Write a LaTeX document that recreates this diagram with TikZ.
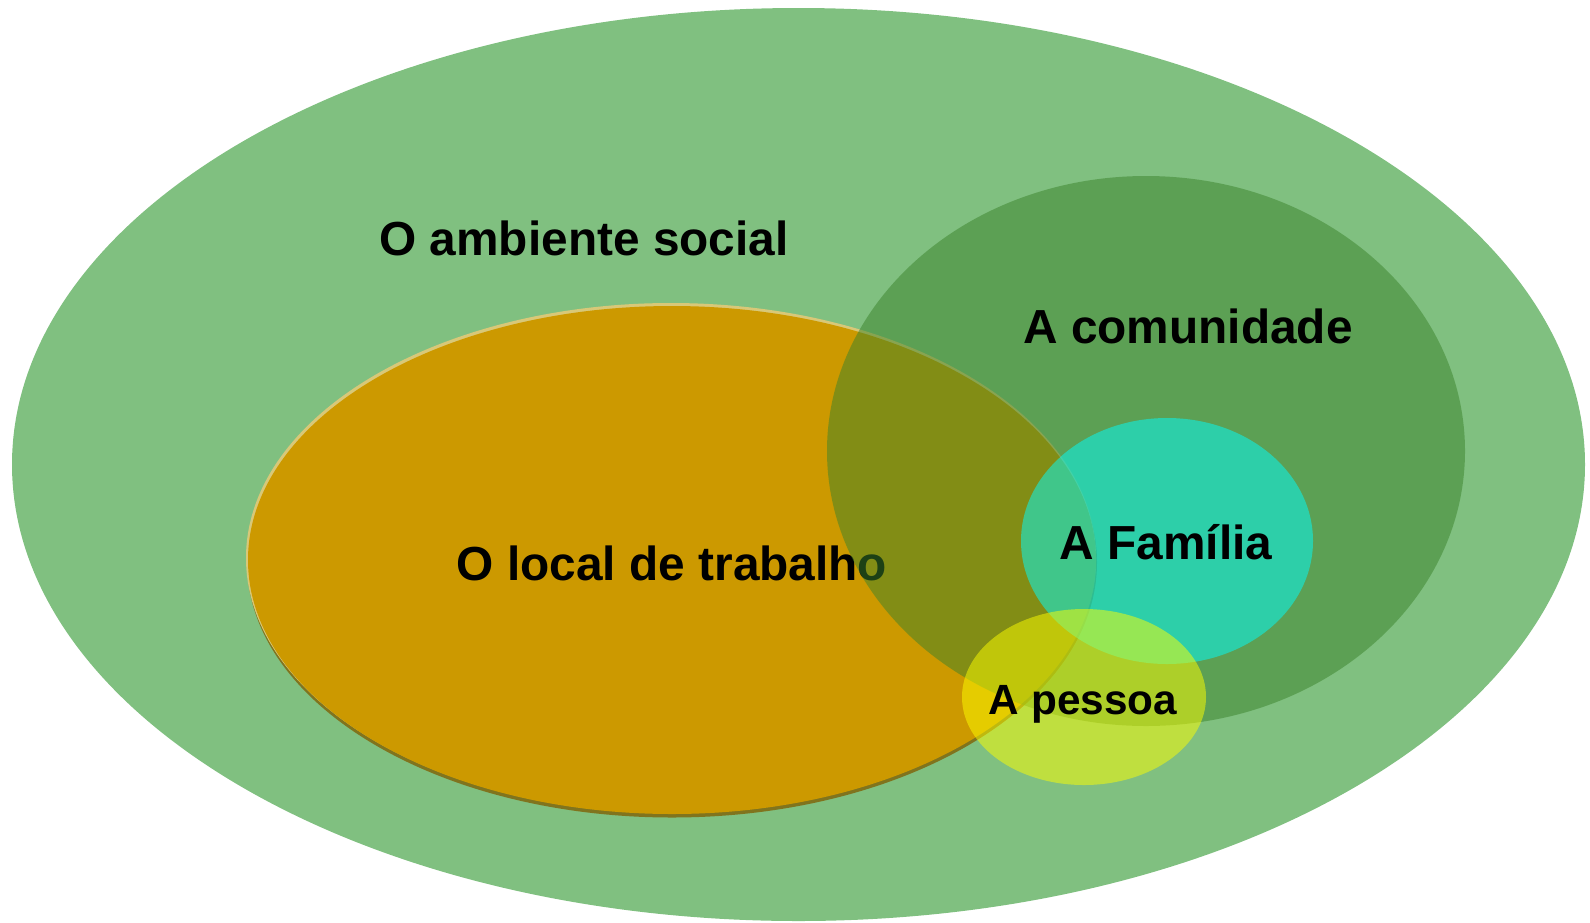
\documentclass[tikz,border=0pt]{standalone}
\usepackage{fontspec}
\setmainfont{Liberation Sans}

\tikzset{every picture/.style={line width=0.75pt}}
\tikzset{lbl/.style={anchor=base,font=\fontsize{47.8}{56}\selectfont\bfseries}}

\begin{document}
\begin{tikzpicture}[x=1pt,y=1pt,yscale=-1,xscale=1]
		\useasboundingbox (0,0) rectangle (1590,922); %set diagram size to the reference

		%Shape: Ellipse [id:ambiente]
		\fill [color={rgb, 255:red, 128; green, 192; blue, 128 }] (798.5,464.5) ellipse (786.5 and 456.5) ;
		%Shape: Ellipse [id:trabalho_shadow]
		\fill [color={rgb, 255:red, 128; green, 116; blue, 30 }] (672,562.5) ellipse (425 and 255) ;
		%Shape: Ellipse [id:trabalho_rim]
		\fill [color={rgb, 255:red, 216; green, 200; blue, 120 }] (671,558) ellipse (425 and 255) ;
		%Shape: Ellipse [id:trabalho]
		\fill [color={rgb, 255:red, 204; green, 153; blue, 0 }] (672,560) ellipse (424 and 254) ;

		% Text Node
		\draw (672,580) node [lbl] (trabalho) {O local de trabalho};

		%Shape: Ellipse [id:comunidade]
		\fill [color={rgb, 255:red, 58; green, 130; blue, 42 }, fill opacity=0.5] (1146,451) ellipse (319 and 275) ;
		%Shape: Ellipse [id:familia]
		\fill [color={rgb, 255:red, 0; green, 255; blue, 255 }, fill opacity=0.5] (1167,541) ellipse (146 and 123) ;
		%Shape: Ellipse [id:pessoa]
		\fill [color={rgb, 255:red, 255; green, 255; blue, 0 }, fill opacity=0.5] (1084,697) ellipse (122 and 88) ;

		% Text Node
		\draw (584,255) node [lbl] (ambiente) {O ambiente social};
		% Text Node
		\draw (1188,343) node [lbl] (comunidade) {A comunidade};
		% Text Node
		\draw (1166,559) node [lbl] (familia) {A Família};
		% Text Node
		\draw (1083,714) node [lbl, font=\fontsize{42.3}{50}\selectfont\bfseries] (pessoa) {A pessoa};

		\end{tikzpicture}
\end{document}
